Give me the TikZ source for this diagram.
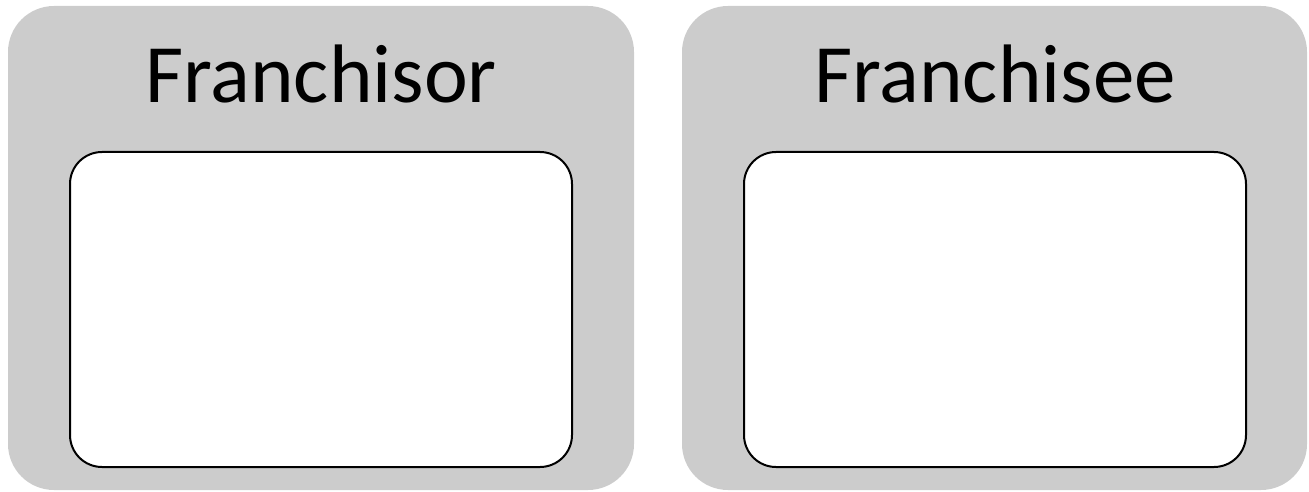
\documentclass[tikz,border=0pt]{standalone}
\usepackage{fontspec}
\setmainfont{Carlito}
\begin{document}
\begin{tikzpicture}[x=1pt,y=-1pt,
  outerbox/.style={fill=black!20,draw=none,rounded corners=46pt},
  innerbox/.style={fill=white,draw=black,line width=2pt,rounded corners=32pt},
  title/.style={font=\fontsize{83}{90}\selectfont,anchor=base}]
\useasboundingbox (0,0) rectangle (1309,492);
\path[outerbox] (8,6) rectangle (634,490);
\path[outerbox] (682,6) rectangle (1307,490);
\draw[innerbox] (70,152) rectangle (572,467);
\draw[innerbox] (744,152) rectangle (1246,467);
\node[title] (t1) at (321,103) {Franchisor};
\node[title] (t2) at (995,103) {Franchisee};
\end{tikzpicture}
\end{document}
